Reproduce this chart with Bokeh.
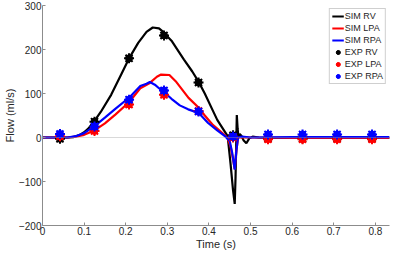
from bokeh.plotting import figure
from bokeh.models import Span, Legend, LegendItem, FixedTicker, CustomJSTickFormatter, Range1d
from bokeh.embed import file_html
from bokeh.resources import INLINE

# ---- data ----
t_sim_rv = [0, 0.03, 0.06, 0.075, 0.09, 0.1, 0.11, 0.122, 0.14, 0.165, 0.19, 0.207, 0.23, 0.25,
            0.265, 0.28, 0.29, 0.31, 0.34, 0.36, 0.375, 0.39, 0.41, 0.42, 0.435, 0.445, 0.452,
            0.458, 0.462, 0.464, 0.467, 0.469, 0.471, 0.474, 0.478, 0.483, 0.49, 0.497, 0.505,
            0.52, 0.6, 0.7, 0.834]
q_sim_rv = [0, 0, 0, 1, 6, 12, 20, 34, 58, 97, 145, 178, 215, 240,
            250, 248, 240, 220, 177, 150, 127, 100, 60, 40, 18, 3, -60,
            -120, -151, -90, 51, 20, 0, 8, 4, -6, -13, -2, 2,
            0, -1, -1, -1]

t_sim_lpa = [0, 0.06, 0.08, 0.1, 0.125, 0.15, 0.175, 0.208, 0.235, 0.258, 0.275, 0.285, 0.305,
             0.32, 0.351, 0.375, 0.39, 0.41, 0.42, 0.435, 0.445, 0.452, 0.458, 0.462, 0.466,
             0.47, 0.48, 0.5, 0.6, 0.7, 0.834]
q_sim_lpa = [0, 0, 2, 6, 16, 32, 52, 80, 112, 124, 138, 143, 142,
             128, 90, 68, 50, 28, 20, 8, -2, -20, -50, -72, -30,
             0, 1, 0, -1, -1, -1]

t_sim_rpa = [0, 0.06, 0.08, 0.1, 0.125, 0.15, 0.175, 0.21, 0.235, 0.25, 0.258, 0.27, 0.28, 0.29,
             0.31, 0.33, 0.35, 0.375, 0.398, 0.42, 0.44, 0.45, 0.456, 0.462, 0.466, 0.47,
             0.48, 0.5, 0.6, 0.7, 0.834]
q_sim_rpa = [0, 0, 3, 10, 26, 45, 65, 92, 117, 122, 126, 120, 112, 105,
             88, 73, 64, 56, 33, 16, 2, -8, -35, -73, -30, 0,
             2, 0, 1, 1, 1]

t_exp = [0.042, 0.125, 0.208, 0.292, 0.375, 0.458, 0.542, 0.625, 0.708, 0.792]
q_exp_rv = [-3, 36, 180, 232, 125, 5, -2, -2, -2, -2]
q_exp_lpa = [3, 15, 75, 97, 60, 0, -4, -4, -4, -4]
q_exp_rpa = [8, 25, 86, 107, 59, 2, 7, 7, 7, 7]

x_ticks = [0, 0.1, 0.2, 0.3, 0.4, 0.5, 0.6, 0.7, 0.8]
y_ticks = [-200, -100, 0, 100, 200, 300]

FONT = "Liberation Sans"

p = figure(width=391, height=252, output_backend="svg", toolbar_location=None,
           x_range=Range1d(0, 0.834), y_range=Range1d(-200, 300),
           min_border_top=5, min_border_right=2, min_border_left=0, min_border_bottom=0)
p.outline_line_color = None
p.grid.visible = False
p.background_fill_color = "white"

for ax in (p.xaxis[0], p.yaxis[0]):
    ax.axis_line_color = "#8c8c8c"
    ax.major_tick_line_color = "#8c8c8c"
    ax.major_tick_in = 3
    ax.major_tick_out = 0
    ax.minor_tick_line_color = None
    ax.major_label_text_font = FONT
    ax.major_label_text_font_size = "10px"
    ax.major_label_text_color = "#262626"
    ax.axis_label_text_font = FONT
    ax.axis_label_text_font_size = "11px"
    ax.axis_label_text_font_style = "normal"
    ax.axis_label_text_color = "#262626"
    ax.major_label_standoff = 1
    ax.axis_label_standoff = 0

p.xaxis.ticker = FixedTicker(ticks=x_ticks)
p.xaxis.formatter = CustomJSTickFormatter(code="return String(Math.round(tick*10)/10);")
p.yaxis.ticker = FixedTicker(ticks=y_ticks)
p.xaxis.axis_label = "Time (s)"
p.yaxis.axis_label = "Flow (ml/s)"

p.add_layout(Span(location=0, dimension="width", line_color="#a0a0a0",
                  line_dash="1 1", line_width=0.8))

r_rv = p.line(t_sim_rv, q_sim_rv, line_color="black", line_width=2.2)
r_lpa = p.line(t_sim_lpa, q_sim_lpa, line_color="red", line_width=2.2)
r_rpa = p.line(t_sim_rpa, q_sim_rpa, line_color="blue", line_width=2.2)


def exp_marks(q, color):
    a = p.scatter(t_exp, q, marker="circle", size=7, fill_color=color, line_color=color)
    b = p.scatter(t_exp, q, marker="asterisk", size=10, line_color=color, line_width=2)
    return [a, b]


e_rv = exp_marks(q_exp_rv, "black")
e_lpa = exp_marks(q_exp_lpa, "red")
e_rpa = exp_marks(q_exp_rpa, "blue")

legend = Legend(items=[
    LegendItem(label="SIM RV", renderers=[r_rv]),
    LegendItem(label="SIM LPA", renderers=[r_lpa]),
    LegendItem(label="SIM RPA", renderers=[r_rpa]),
    LegendItem(label="EXP RV", renderers=e_rv),
    LegendItem(label="EXP LPA", renderers=e_lpa),
    LegendItem(label="EXP RPA", renderers=e_rpa),
], location="top_right")
legend.label_text_font = FONT
legend.label_text_font_size = "9px"
legend.label_text_color = "#262626"
legend.glyph_width = 12
legend.glyph_height = 10
legend.label_height = 10
legend.label_standoff = 1
legend.spacing = 2
legend.padding = 2
legend.margin = 3
legend.border_line_color = "#a0a0a0"
legend.background_fill_alpha = 1
p.add_layout(legend)

open("out.html", "w").write(file_html(p, INLINE))
